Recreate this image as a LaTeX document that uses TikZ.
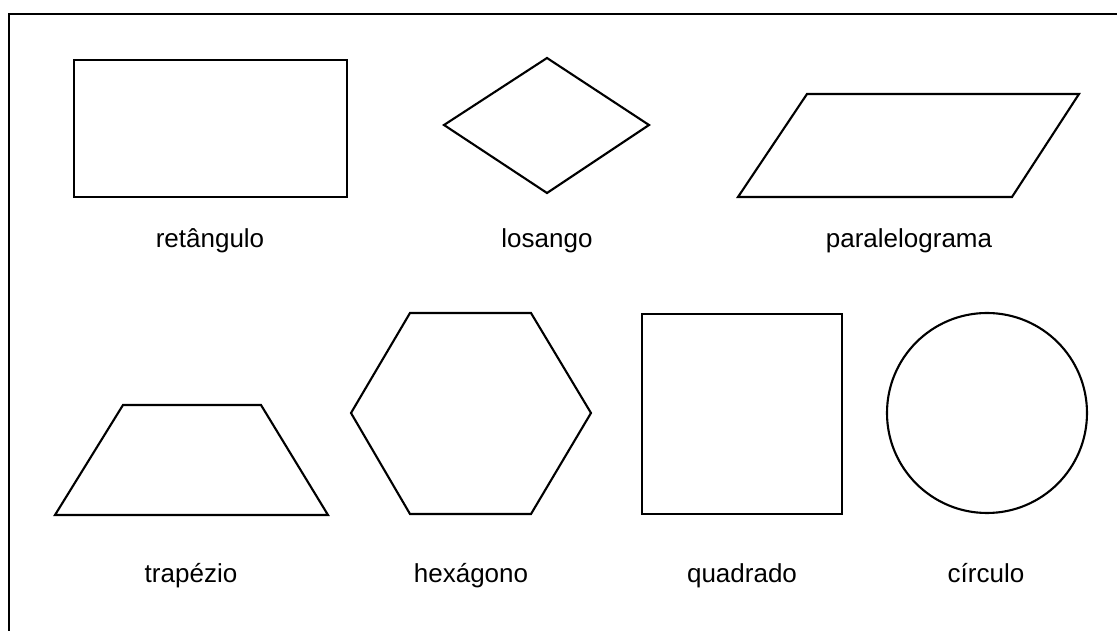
\documentclass[tikz,border=0pt]{standalone}
\usepackage{fontspec}
\setmainfont{Liberation Sans}
\usepackage{tikz}
\usetikzlibrary{positioning, calc}

\begin{document}
\begin{tikzpicture}[
    x=0.02cm, y=-0.02cm,
    frame/.style={draw, line width=1.7pt},
    outline/.style={draw, line width=1.2pt, line join=miter},
    heavy/.style={draw, line width=1.5pt},
    label/.style={font=\fontsize{14.8}{17}\selectfont, inner sep=0pt, anchor=base}
]
\useasboundingbox (0,0) rectangle (1117,631);
\draw[frame] (9,640) -- (9,14) -- (1130,14);

% top row
\draw[heavy] (74,60) rectangle (347,197);
\draw[outline] (547,58) -- (649,125) -- (547,193) -- (444,125) -- cycle;
\draw[outline] (807,94) -- (1079,94) -- (1012,197) -- (738,197) -- cycle;

% bottom row
\draw[outline] (123,405) -- (261,405) -- (328,515) -- (55,515) -- cycle;
\draw[outline] (410,313) -- (531,313) -- (591,413) -- (531,514) -- (410,514) -- (351,413) -- cycle;
\draw[heavy] (642,314) rectangle (842,514);
\draw[outline] (987,413) circle (100);

\node[label] (ret) at (210,248) {retângulo};
\node[label] (los) at (547,248) {losango};
\node[label] (par) at (909,248) {paralelograma};
\node[label] (tra) at (191,583) {trapézio};
\node[label] (hex) at (471,583) {hexágono};
\node[label] (qua) at (742,583) {quadrado};
\node[label] (cir) at (986,583) {círculo};
\end{tikzpicture}
\end{document}
